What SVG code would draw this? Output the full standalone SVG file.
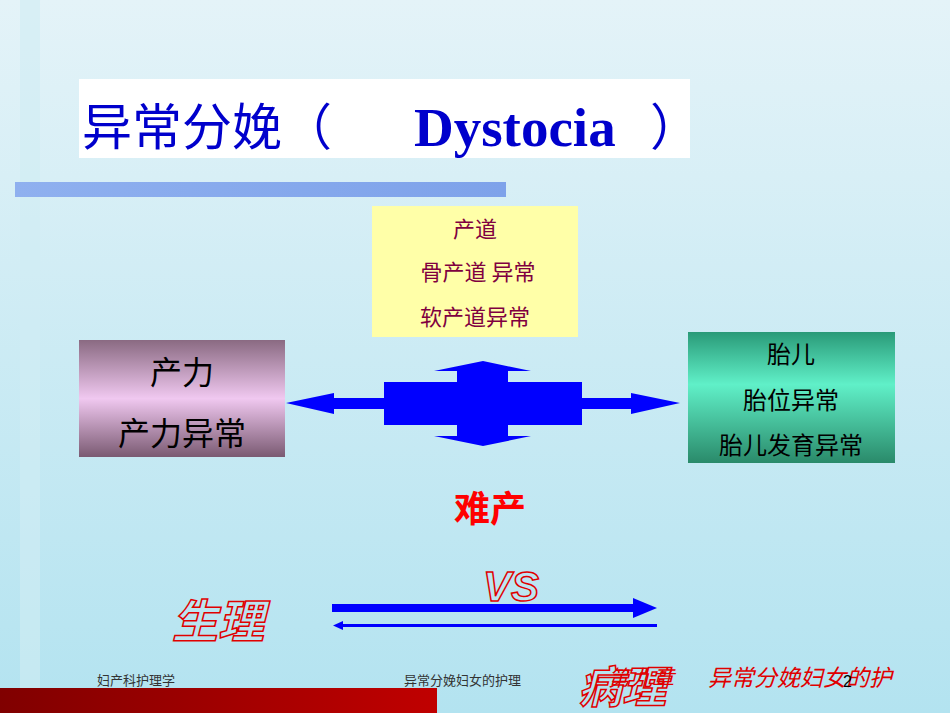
<svg xmlns="http://www.w3.org/2000/svg" width="950" height="713" viewBox="0 0 950 713">
<defs>
<linearGradient id="bg" x1="0" y1="0" x2="0" y2="1"><stop offset="0" stop-color="#e4f3f8"/><stop offset="1" stop-color="#b3e3f0"/></linearGradient>
<linearGradient id="bar" x1="0" y1="0" x2="1" y2="0"><stop offset="0" stop-color="#8fb0ef"/><stop offset="1" stop-color="#7ea2ea"/></linearGradient>
<linearGradient id="pl" x1="0" y1="0" x2="0" y2="1"><stop offset="0" stop-color="#8a6a82"/><stop offset="0.5" stop-color="#f0c8f0"/><stop offset="1" stop-color="#7a5a72"/></linearGradient>
<linearGradient id="gr" x1="0" y1="0" x2="0" y2="1"><stop offset="0" stop-color="#2a9a78"/><stop offset="0.4" stop-color="#60f0c8"/><stop offset="1" stop-color="#2a8a6a"/></linearGradient>
<linearGradient id="ft" x1="0" y1="0" x2="1" y2="0"><stop offset="0" stop-color="#800000"/><stop offset="1" stop-color="#c00000"/></linearGradient>
<style>
.cn{font-family:"Noto Sans CJK SC","Liberation Sans",sans-serif}
.ol{fill:none;stroke:#e00000;stroke-width:1.5;font-style:italic;font-weight:bold}
</style>
</defs>
<rect width="950" height="713" fill="url(#bg)"/>
<rect x="20" y="0" width="20" height="713" fill="#d0ecf4" opacity="0.6"/>
<rect x="79" y="79" width="611" height="79" fill="#ffffff"/>
<text x="82" y="145" font-size="50" class="cn" fill="#0000cc">异常分娩（</text>
<text x="414" y="146" font-size="55" font-family="Liberation Serif" font-weight="bold" fill="#0000cc">Dystocia</text>
<text x="650" y="145" font-size="50" class="cn" fill="#0000cc">）</text>
<rect x="15" y="182" width="491" height="15" fill="url(#bar)"/>
<g id="birth-canal">
<rect x="372" y="206" width="206" height="131" fill="#ffffa8"/>
<text class="cn" font-size="22" fill="#800040" text-anchor="middle"><tspan x="475" y="237">产道</tspan><tspan x="478" y="280">骨产道  异常</tspan><tspan x="475" y="325">软产道异常</tspan></text>
</g>
<g id="power">
<rect x="79" y="340" width="206" height="117" fill="url(#pl)"/>
<text class="cn" font-size="32" fill="#000" text-anchor="middle"><tspan x="182" y="384">产力</tspan><tspan x="182" y="445">产力异常</tspan></text>
</g>
<g id="fetus">
<rect x="688" y="332" width="207" height="131" fill="url(#gr)"/>
<text class="cn" font-size="24" fill="#000" text-anchor="middle"><tspan x="791" y="363">胎儿</tspan><tspan x="791" y="409">胎位异常</tspan><tspan x="791" y="454">胎儿发育异常</tspan></text>
</g>
<g id="connectors">
<polygon fill="#0000ff" points="286,403 334,393 334,398 384,398 384,382 457,382 457,371 434,371 483,361 531,371 508,371 508,382 582,382 582,398 631,398 631,393 680,403 631,414 631,409 582,409 582,425 508,425 508,436 531,436 483,446 434,436 457,436 457,425 384,425 384,409 334,409 334,414"/>
<rect x="332" y="604" width="305" height="8" fill="#0000ff"/>
<polygon points="633,598 657,608 633,618" fill="#0000ff"/>
<rect x="340" y="624" width="317" height="3" fill="#0000ff"/>
<polygon points="333,625.5 343,621 343,630" fill="#0000ff"/>
</g>
<text x="490" y="522" class="cn" font-size="36" font-weight="bold" fill="#ff0000" text-anchor="middle">难产</text>
<text x="483" y="601" font-family="Liberation Sans" font-size="42" class="ol">VS</text>
<text x="172" y="638" class="cn ol" font-size="46">生理</text>
<text x="578" y="703" class="cn ol" font-size="44">病理</text>
<rect x="0" y="688" width="437" height="25" fill="url(#ft)"/>
<text x="97" y="685" class="cn" font-size="13" fill="#333">妇产科护理学</text>
<text x="404" y="685" class="cn" font-size="13" fill="#333">异常分娩妇女的护理</text>
<text x="608" y="686" class="cn" font-size="22" font-style="italic" fill="#e00000">第九章</text>
<text x="708" y="686" class="cn" font-size="23" font-style="italic" fill="#e00000">异常分娩妇女的护</text>
<text x="843" y="687" font-family="Liberation Sans" font-size="16" fill="#000">2</text>
</svg>
